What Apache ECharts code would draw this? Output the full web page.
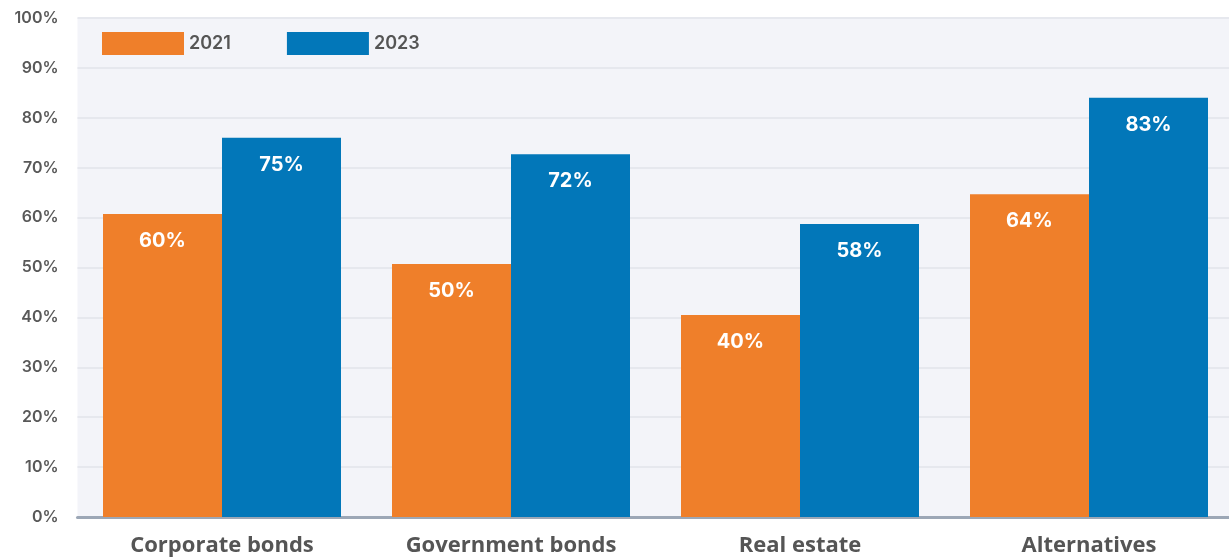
<!DOCTYPE html>
<html>
<head>
<meta charset="utf-8">
<script src="https://cdn.jsdelivr.net/npm/echarts@6/dist/echarts.min.js"></script>
<style>
html,body{margin:0;padding:0;background:#ffffff;}
#chart{width:1229px;height:558px;}
</style>
</head>
<body>
<div id="chart"></div>
<script>
const categories = ['Corporate bonds', 'Government bonds', 'Real estate', 'Alternatives'];
const seriesNames = ['2021', '2023'];
// bar heights (percent)
const values2021 = [60.7, 50.7, 40.5, 64.7];
const values2023 = [76.0, 72.7, 58.7, 84.0];
// label texts as printed on the bars
const labels2021 = ['60%', '50%', '40%', '64%'];
const labels2023 = ['75%', '72%', '58%', '83%'];
const yTicks = [0, 10, 20, 30, 40, 50, 60, 70, 80, 90, 100];

const FONT = 'Inter, "Open Sans", sans-serif';
const chart = echarts.init(document.getElementById('chart'), null, {renderer: 'canvas'});

function barLabel(texts) {
  return {
    show: true,
    position: 'insideTop',
    distance: 17,
    color: '#ffffff',
    fontFamily: FONT,
    fontWeight: 700,
    fontSize: 20,
    formatter: p => texts[p.dataIndex]
  };
}

chart.setOption({
  animation: false,
  backgroundColor: '#ffffff',
  grid: {
    left: 77.5, width: 1156, top: 18, bottom: 41,
    outerBoundsMode: 'none', containLabel: false,
    show: true, backgroundColor: '#f3f4f9', borderWidth: 0
  },
  legend: {
    left: 102, top: 32, padding: 0,
    itemWidth: 82, itemHeight: 23, itemGap: 56,
    icon: 'rect',
    textStyle: {color: '#555555', fontFamily: FONT, fontWeight: 600, fontSize: 18},
    data: seriesNames
  },
  xAxis: {
    type: 'category',
    data: categories,
    axisLine: {show: true, lineStyle: {color: '#9ca7b6', width: 3}},
    axisTick: {show: false},
    axisLabel: {
      color: '#555555', fontFamily: '"Open Sans", sans-serif', fontWeight: 700, fontSize: 22, margin: 18
    }
  },
  yAxis: {
    type: 'value',
    min: 0, max: 100, interval: 10,
    axisLine: {show: false},
    axisTick: {show: false},
    splitLine: {show: true, lineStyle: {color: '#e6e8ee', width: 2}},
    axisLabel: {
      color: '#595959', fontFamily: FONT, fontWeight: 600, fontSize: 16, margin: 19,
      padding: [5, 0, 0, 0],
      formatter: v => (yTicks.indexOf(v) >= 0 ? v + '%' : '')
    }
  },
  series: [
    {
      name: seriesNames[0], type: 'bar', data: values2021,
      barWidth: 119, barGap: '0%',
      itemStyle: {color: '#ef7f2a'},
      label: barLabel(labels2021)
    },
    {
      name: seriesNames[1], type: 'bar', data: values2023,
      barWidth: 119, barGap: '0%',
      itemStyle: {color: '#0277b9'},
      label: barLabel(labels2023)
    }
  ]
});
</script>
</body>
</html>
